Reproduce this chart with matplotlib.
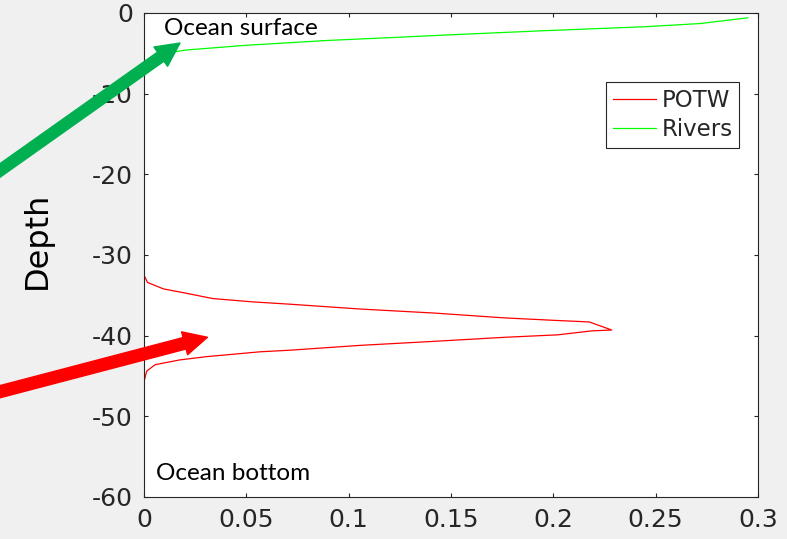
import numpy as np
import matplotlib.pyplot as plt
plt.switch_backend('agg')
from matplotlib.patches import ArrowStyle

plt.rcParams['axes.unicode_minus'] = False

# profiles (value, depth)
potw_depth = [-0.6, -32.5, -33.4, -34.2, -34.7, -35.4, -35.8, -36.1, -36.7, -37.2, -37.8,
              -38.1, -38.3, -39.3, -39.4, -39.9, -40.2, -40.7, -41.2, -41.8, -42.0,
              -42.6, -43.0, -43.6, -44.4, -45.7, -59.0]
potw_value = [0.0, 0.0, 0.0017, 0.0095, 0.0198, 0.0336, 0.0525, 0.0714, 0.1058, 0.142, 0.1763,
              0.2004, 0.2176, 0.2285, 0.219, 0.202, 0.1764, 0.142, 0.1058, 0.0714, 0.0567,
              0.0306, 0.0176, 0.0054, 0.0013, 0.0, 0.0]

rivers_depth = [-0.6, -1.3, -1.7, -2.2, -2.7, -3.0, -3.4, -4.0, -4.6, -5.0, -5.5, -6.2, -59.0]
rivers_value = [0.295, 0.272, 0.245, 0.195, 0.150, 0.125, 0.090, 0.050, 0.020, 0.011, 0.004, 0.0, 0.0]

series_names = ['POTW', 'Rivers']
xticks = [0, 0.05, 0.1, 0.15, 0.2, 0.25, 0.3]
xticklabels = ['0', '0.05', '0.1', '0.15', '0.2', '0.25', '0.3']
yticks = [-60, -50, -40, -30, -20, -10, 0]
yticklabels = ['-60', '-50', '-40', '-30', '-20', '-10', '0']

fig = plt.figure(figsize=(7.87, 5.39), dpi=100, facecolor='#f0f0f0')
ax = fig.add_axes([144/787, 1-497/539, 614/787, 484/539])
ax.set_facecolor('white')

ax.plot(potw_value, potw_depth, color='#ff0000', lw=0.9, label=series_names[0])
ax.plot(rivers_value, rivers_depth, color='#00ff00', lw=0.9, label=series_names[1])

ax.set_xlim(0, 0.3)
ax.set_ylim(-60, 0)
ax.set_xticks(xticks)
ax.set_xticklabels(xticklabels)
ax.set_yticks(yticks)
ax.set_yticklabels(yticklabels)
ax.tick_params(direction='in', length=3, width=0.8, colors='#262626', labelsize=18,
               top=True, right=True, pad=8)
for s in ax.spines.values():
    s.set_color('#262626')
    s.set_linewidth(0.8)

ax.set_ylabel('Depth', fontsize=23, color='black')
ax.yaxis.set_label_coords(-0.148, 0.531)

leg = ax.legend(loc='upper right', bbox_to_anchor=(0.9695, 0.858), borderaxespad=0,
                fontsize=16.5, handlelength=1.85, handletextpad=0.25, labelspacing=0.3,
                borderpad=0.3, fancybox=False, framealpha=1, edgecolor='#262626')
leg.get_frame().set_linewidth(0.8)
for t in leg.get_texts():
    t.set_color('#262626')

ax.text(0.0099, -2.73, 'Ocean surface', family='Lato', fontsize=17.5, va='baseline', color='black')
ax.text(0.0057, -57.9, 'Ocean bottom', family='Lato', fontsize=17.5, va='baseline', color='black')

# slide arrows pointing into the plot
ax.annotate('', xy=(0.0176, -3.72), xycoords='data', xytext=(-5, 365), textcoords='figure pixels',
            arrowprops=dict(arrowstyle=ArrowStyle('simple', head_length=17, head_width=17, tail_width=8),
                            mutation_scale=1, color='#00b050', shrinkA=0, shrinkB=0))
ax.annotate('', xy=(0.031, -40.2), xycoords='data', xytext=(-5, 146), textcoords='figure pixels',
            arrowprops=dict(arrowstyle=ArrowStyle('simple', head_length=17, head_width=17, tail_width=8.5),
                            mutation_scale=1, color='#ff0000', shrinkA=0, shrinkB=0))

plt.savefig('out.png', dpi=100, facecolor=fig.get_facecolor())
